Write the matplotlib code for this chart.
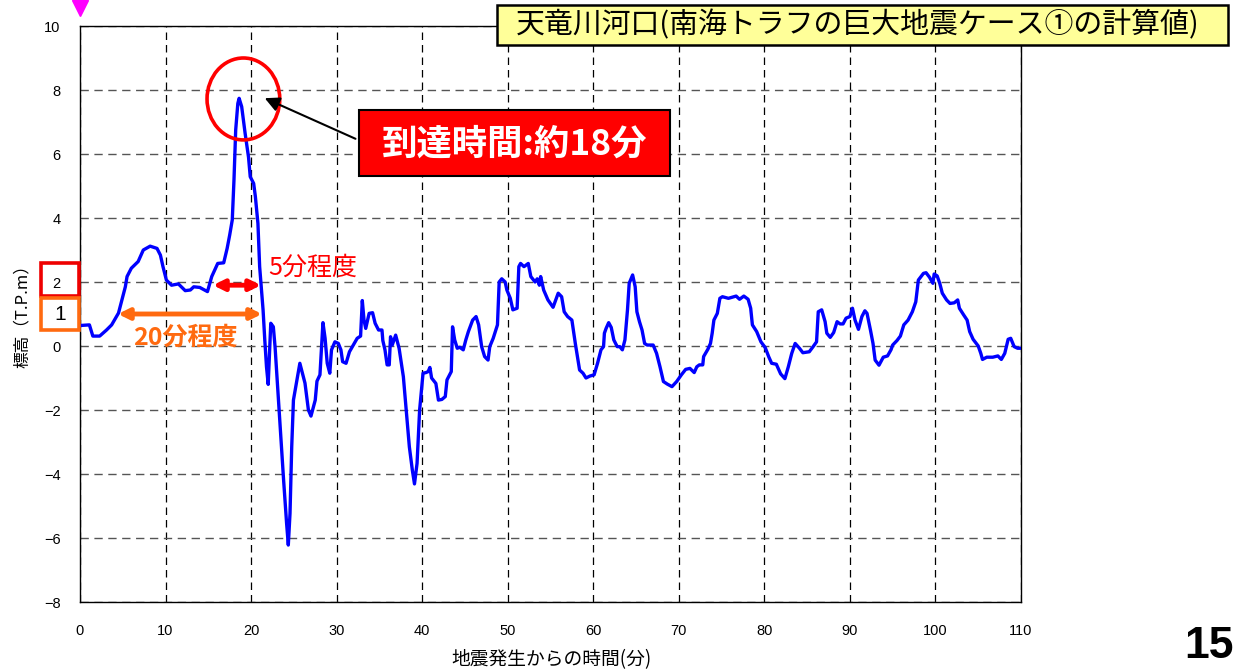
import matplotlib
matplotlib.use("Agg")
import matplotlib.pyplot as plt
from matplotlib.patches import Ellipse, Rectangle

plt.rcParams['font.family'] = ['Noto Sans CJK JP', 'DejaVu Sans']

# tide level at the Tenryu river mouth (T.P. m) vs minutes after the quake
minutes = [
    0.0, 1.1, 1.5, 2.3, 3.1, 3.7, 4.5, 4.9, 5.3, 5.5,
    6.0, 6.8, 7.4, 8.2, 9.0, 9.4, 9.7, 10.1, 10.7, 11.5,
    12.3, 12.9, 13.3, 14.0, 14.9, 15.4, 16.1, 16.8, 17.2, 17.5,
    17.8, 18.0, 18.2, 18.45, 18.6, 18.9, 19.3, 19.7, 19.9, 20.3,
    20.5, 20.8, 21.0, 21.4, 21.6, 21.8, 22.0, 22.3, 22.6, 22.8,
    23.0, 23.4, 23.8, 24.15, 24.35, 24.55, 24.75, 24.95, 25.15, 25.5,
    25.7, 26.3, 26.7, 27.0, 27.5, 27.7, 28.05, 28.4, 28.65, 28.9,
    29.2, 29.4, 29.8, 30.2, 30.5, 30.7, 31.1, 31.5, 31.95, 32.4,
    32.8, 33.0, 33.2, 33.4, 33.8, 34.2, 34.5, 34.9, 35.3, 35.4,
    35.65, 35.9, 36.15, 36.3, 36.5, 36.9, 37.3, 37.8, 38.1, 38.5,
    38.85, 39.1, 39.4, 39.7, 40.1, 40.45, 40.7, 40.9, 41.1, 41.6,
    41.9, 42.3, 42.7, 42.9, 43.4, 43.55, 43.8, 44.1, 44.4, 44.8,
    45.1, 45.4, 45.9, 46.3, 46.6, 46.95, 47.3, 47.7, 47.9, 48.3,
    48.8, 49.0, 49.3, 49.7, 49.9, 50.3, 50.6, 51.1, 51.3, 51.5,
    51.9, 52.4, 52.7, 53.2, 53.45, 53.7, 53.85, 54.2, 54.7, 55.3,
    55.9, 56.3, 56.6, 57.0, 57.5, 57.9, 58.4, 58.8, 59.15, 59.6,
    60.1, 60.5, 60.9, 61.2, 61.3, 61.5, 61.8, 62.1, 62.4, 62.8,
    63.1, 63.4, 63.7, 64.0, 64.2, 64.6, 64.9, 65.1, 65.4, 65.7,
    66.0, 66.3, 67.0, 67.4, 67.8, 68.2, 68.65, 69.2, 69.75, 70.3,
    70.8, 71.3, 71.8, 72.1, 72.4, 72.8, 72.9, 73.4, 73.7, 73.9,
    74.1, 74.5, 74.8, 75.1, 75.8, 76.7, 77.1, 77.6, 78.1, 78.4,
    78.6, 79.1, 79.6, 80.1, 80.5, 80.85, 81.4, 81.9, 82.4, 82.8,
    83.2, 83.6, 84.1, 84.5, 85.25, 85.7, 86.1, 86.3, 86.7, 87.1,
    87.3, 87.7, 88.1, 88.5, 88.85, 89.2, 89.55, 90.0, 90.3, 90.6,
    91.0, 91.4, 91.75, 92.0, 92.4, 92.7, 92.95, 93.4, 93.9, 94.4,
    94.8, 95.0, 95.5, 95.9, 96.3, 96.8, 97.3, 97.7, 98.0, 98.6,
    98.9, 99.3, 99.7, 99.85, 100.2, 100.5, 100.8, 101.3, 101.7, 102.2,
    102.6, 102.8, 103.3, 103.7, 104.0, 104.4, 105.0, 105.3, 105.5, 106.0,
    106.7, 107.3, 107.7, 108.1, 108.5, 108.8, 109.2, 109.6, 110.0,
]
level = [
    0.64, 0.66, 0.31, 0.31, 0.5, 0.66, 1.03, 1.44, 1.85, 2.17,
    2.43, 2.64, 3.0, 3.12, 3.05, 2.84, 2.48, 2.06, 1.9, 1.94,
    1.73, 1.75, 1.85, 1.83, 1.70, 2.17, 2.58, 2.6, 3.05, 3.47,
    3.94, 5.19, 6.75, 7.58, 7.74, 7.48, 6.65, 5.9, 5.29, 5.08,
    4.67, 3.83, 2.48, 1.13, 0.19, -0.65, -1.2, 0.71, 0.6, -0.02,
    -0.85, -2.52, -4.19, -5.54, -6.22, -5.23, -3.15, -1.69, -1.38, -0.85,
    -0.54, -1.16, -2.0, -2.19, -1.69, -1.1, -0.9, 0.73, 0.24, -0.54,
    -0.85, -0.12, 0.13, 0.08, -0.12, -0.49, -0.54, -0.18, 0.03, 0.24,
    0.31, 1.42, 0.81, 0.55, 1.02, 1.04, 0.71, 0.5, 0.5, 0.17,
    -0.12, -0.59, -0.59, 0.29, 0.03, 0.34, -0.07, -0.96, -1.9, -3.15,
    -3.88, -4.31, -3.67, -2.0, -0.85, -0.83, -0.8, -0.67, -1.0, -1.17,
    -1.69, -1.67, -1.58, -1.06, -0.8, 0.6, 0.19, -0.07, -0.04, -0.12,
    0.19, 0.45, 0.81, 0.92, 0.66, -0.02, -0.33, -0.44, -0.02, 0.24,
    0.66, 2.0, 2.1, 2.0, 1.75, 1.49, 1.13, 1.18, 2.48, 2.58,
    2.48, 2.58, 2.17, 2.0, 2.1, 1.9, 2.17, 1.75, 1.44, 1.21,
    1.65, 1.54, 1.07, 0.92, 0.81, 0.08, -0.75, -0.85, -1.0, -0.94,
    -0.9, -0.54, -0.12, -0.02, 0.4, 0.55, 0.73, 0.58, 0.19, -0.02,
    -0.02, -0.12, 0.19, 1.13, 1.96, 2.22, 1.85, 1.07, 0.76, 0.5,
    0.08, 0.03, 0.03, -0.23, -0.65, -1.11, -1.19, -1.27, -1.11, -0.9,
    -0.73, -0.7, -0.83, -0.65, -0.59, -0.59, -0.33, -0.1, 0.08, 0.4,
    0.81, 1.02, 1.49, 1.54, 1.49, 1.56, 1.46, 1.56, 1.46, 1.18,
    0.66, 0.45, 0.13, -0.05, -0.33, -0.54, -0.57, -0.87, -1.02, -0.65,
    -0.23, 0.08, -0.07, -0.21, -0.18, -0.02, 0.13, 1.07, 1.13, 0.76,
    0.4, 0.27, 0.42, 0.76, 0.69, 0.69, 0.87, 0.92, 1.18, 0.81,
    0.52, 0.92, 1.1, 1.02, 0.5, 0.08, -0.44, -0.6, -0.35, -0.31,
    -0.12, 0.03, 0.17, 0.31, 0.66, 0.81, 1.07, 1.38, 2.06, 2.27,
    2.29, 2.15, 1.96, 2.25, 2.19, 1.96, 1.65, 1.44, 1.33, 1.35,
    1.44, 1.18, 0.97, 0.81, 0.45, 0.21, 0.0, -0.23, -0.42, -0.35,
    -0.35, -0.31, -0.42, -0.23, 0.21, 0.24, -0.02, -0.07, -0.07,
]

x_ticks = [0, 10, 20, 30, 40, 50, 60, 70, 80, 90, 100, 110]
y_ticks = [-8, -6, -4, -2, 0, 2, 4, 6, 8, 10]

title = "天竜川河口(南海トラフの巨大地震ケース①の計算値)"
arrival_label = "到達時間:約18分"
peak_time, peak_level = 19.1, 7.72
short_span = (15.55, 21.16, 1.9)
long_span = (4.44, 21.27, 1.0)

fig = plt.figure(figsize=(12.38, 6.70), dpi=100)
ax = fig.add_axes([80 / 1238, 68 / 670, 941 / 1238, 576 / 670])

ax.plot(minutes, level, color="#0000FF", lw=2.4, zorder=3)

ax.set_xlim(0, 110)
ax.set_ylim(-8, 10)
ax.set_xticks(x_ticks)
ax.set_yticks(y_ticks)
ax.set_yticklabels([str(v).replace("-", "−") for v in y_ticks])
ax.tick_params(length=0, labelsize=10.5)
ax.tick_params(axis="y", pad=14)
ax.tick_params(axis="x", pad=16)
for lab in ax.get_xticklabels() + ax.get_yticklabels():
    lab.set_fontfamily("Liberation Sans")

ax.yaxis.grid(True, color="#555555", ls=(0, (6, 4)), lw=1)
ax.xaxis.grid(True, color="black", ls=(0, (6, 4)), lw=0.9)
for s in ax.spines.values():
    s.set_linewidth(1)

# arrival circle and callout
ax.add_patch(Ellipse((peak_time, peak_level), 8.5, 2.56, fill=False,
                     ec="red", lw=2.6, zorder=4))
ax.annotate("", xy=(21.3, 7.78), xytext=(32.5, 6.44),
            arrowprops=dict(arrowstyle="-|>", color="black", lw=1.5,
                            mutation_scale=22), zorder=5)

# duration arrows
ax.annotate("", xy=(short_span[0], short_span[2]), xytext=(short_span[1], short_span[2]),
            arrowprops=dict(arrowstyle="<|-|>", color="red", lw=3.5,
                            mutation_scale=16, shrinkA=0, shrinkB=0), zorder=5)
ax.text(22.0, 2.45, "5分程度", color="red", fontsize=18, va="center", ha="left")
ax.annotate("", xy=(long_span[0], long_span[2]), xytext=(long_span[1], long_span[2]),
            arrowprops=dict(arrowstyle="<|-|>", color="#FF6A10", lw=3.5,
                            mutation_scale=16, shrinkA=0, shrinkB=0), zorder=5)
ax.text(12.3, 0.25, "20分程度", color="#FF6A10", fontsize=18, va="center",
        ha="center", fontweight="bold")

ax.plot([0], [10.56], marker="v", color="#FF00FF", ms=11, clip_on=False)

# red arrival box
fig.patches.append(Rectangle((359 / 1238, 1 - 176 / 670), 311 / 1238, 66 / 670,
                             transform=fig.transFigure, fc="#FF0000", ec="black",
                             lw=1.5, zorder=5))
fig.text(515 / 1238, 1 - 144 / 670, arrival_label, color="white", fontsize=25.5,
         fontweight="bold", ha="center", va="center", zorder=6)

# title box
fig.patches.append(Rectangle((497 / 1238, 1 - 45 / 670), 731 / 1238, 40 / 670,
                             transform=fig.transFigure, fc="#FFFF99", ec="black",
                             lw=1.8, zorder=5))
fig.text(858 / 1238, 1 - 25 / 670, title, fontsize=20.8, ha="center", va="center",
         zorder=6)

# boxes on the y axis
fig.patches.append(Rectangle((41 / 1238, 1 - 296 / 670), 38 / 1238, 33 / 670,
                             transform=fig.transFigure, fill=False, ec="#EE0000",
                             lw=2.6))
fig.patches.append(Rectangle((41 / 1238, 1 - 330 / 670), 38 / 1238, 32 / 670,
                             transform=fig.transFigure, fill=False, ec="#FF6A10",
                             lw=2.6))
fig.text(60 / 1238, 1 - 315 / 670, "1", fontsize=15, ha="center", va="center",
         fontfamily="Liberation Sans")

fig.text(22 / 1238, 1 - 312 / 670, "標高（T.P.m）", rotation=90, fontsize=12,
         ha="center", va="center")
fig.text(551 / 1238, 1 - 660 / 670, "地震発生からの時間(分)", fontsize=13.5,
         ha="center", va="center")
fig.text(1184 / 1238, 3 / 670, "15", fontsize=32, fontweight="bold",
         ha="left", va="bottom", fontfamily="Liberation Sans")

fig.savefig("out.png", dpi=100)
